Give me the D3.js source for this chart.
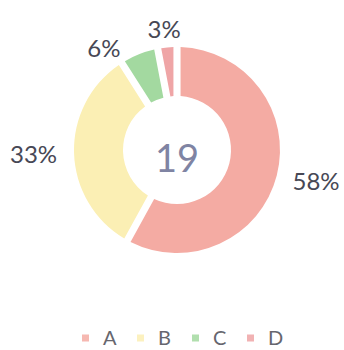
<!DOCTYPE html>
<html>
<head>
<meta charset="utf-8">
<script src="https://cdn.jsdelivr.net/npm/d3@7/dist/d3.min.js"></script>
<style>
  html, body { margin: 0; padding: 0; background: #fff; }
  svg { display: block; }
</style>
</head>
<body>
<svg id="chart" width="344" height="350"></svg>
<script>
// Share of each category in the doughnut
const categories = ["A", "B", "C", "D"];
const values = [58, 33, 6, 3];
const percentLabels = ["58%", "33%", "6%", "3%"];
const colors = ["#f4aba3", "#fbefb4", "#a3d9a0", "#efa5a6"];
const centerTotal = "19";

const width = 344, height = 350;
const cx = 177, cy = 150;
const outerR = 103, innerR = 54;
const labelR = 120;
const minLabelSep = 27 * Math.PI / 180;

const svg = d3.select("#chart");
const g = svg.append("g").attr("transform", `translate(${cx},${cy})`);

const pie = d3.pie().value(d => d).sort(null);
const arcs = pie(values);

const arc = d3.arc()
  .innerRadius(innerR)
  .outerRadius(outerR)
  .padAngle(0.062)
  .padRadius(115);

g.selectAll("path.slice")
  .data(arcs)
  .join("path")
  .attr("class", "slice")
  .attr("d", arc)
  .attr("fill", (d, i) => colors[i]);

// Label angles: slice mid-angles, spread apart so neighbours keep a minimum gap
const labelAngles = arcs.map(d => (d.startAngle + d.endAngle) / 2);
for (let i = labelAngles.length - 1; i > 0; i--) {
  if (labelAngles[i] - labelAngles[i - 1] < minLabelSep) {
    labelAngles[i - 1] = labelAngles[i] - minLabelSep;
  }
}

const labelFont = "Lato, 'Open Sans', sans-serif";
const labels = g.selectAll("text.pct")
  .data(arcs)
  .join("text")
  .attr("class", "pct")
  .attr("text-anchor", "middle")
  .attr("dominant-baseline", "central")
  .attr("font-family", labelFont)
  .attr("font-size", 24)
  .attr("fill", "#474855")
  .text((d, i) => percentLabels[i]);

labels.each(function (d, i) {
  const a = labelAngles[i];
  const bb = this.getBBox();
  const sx = Math.sin(a), sy = -Math.cos(a);
  const x = labelR * sx + (bb.width / 2) * sx;
  const y = (labelR + 2) * sy;
  d3.select(this).attr("x", x).attr("y", y);
});

// Total in the hole
g.append("text")
  .attr("x", 0)
  .attr("y", 7)
  .attr("text-anchor", "middle")
  .attr("dominant-baseline", "central")
  .attr("font-family", labelFont)
  .attr("font-size", 38)
  .attr("fill", "#7f84a3")
  .text(centerTotal);

// Legend along the bottom
const legendX = d3.scalePoint()
  .domain(categories)
  .range([82, 247]);

const legend = svg.append("g").attr("class", "legend");
const items = legend.selectAll("g.item")
  .data(categories)
  .join("g")
  .attr("class", "item")
  .attr("transform", d => `translate(${legendX(d)},338)`);

items.append("rect")
  .attr("x", 0)
  .attr("y", -3.5)
  .attr("width", 7)
  .attr("height", 7)
  .attr("fill", (d, i) => colors[i])
  .attr("opacity", 0.85);

items.append("text")
  .attr("x", 21)
  .attr("y", 7)
  .attr("font-family", labelFont)
  .attr("font-size", 20)
  .attr("fill", "#66666e")
  .text(d => d);
</script>
</body>
</html>
